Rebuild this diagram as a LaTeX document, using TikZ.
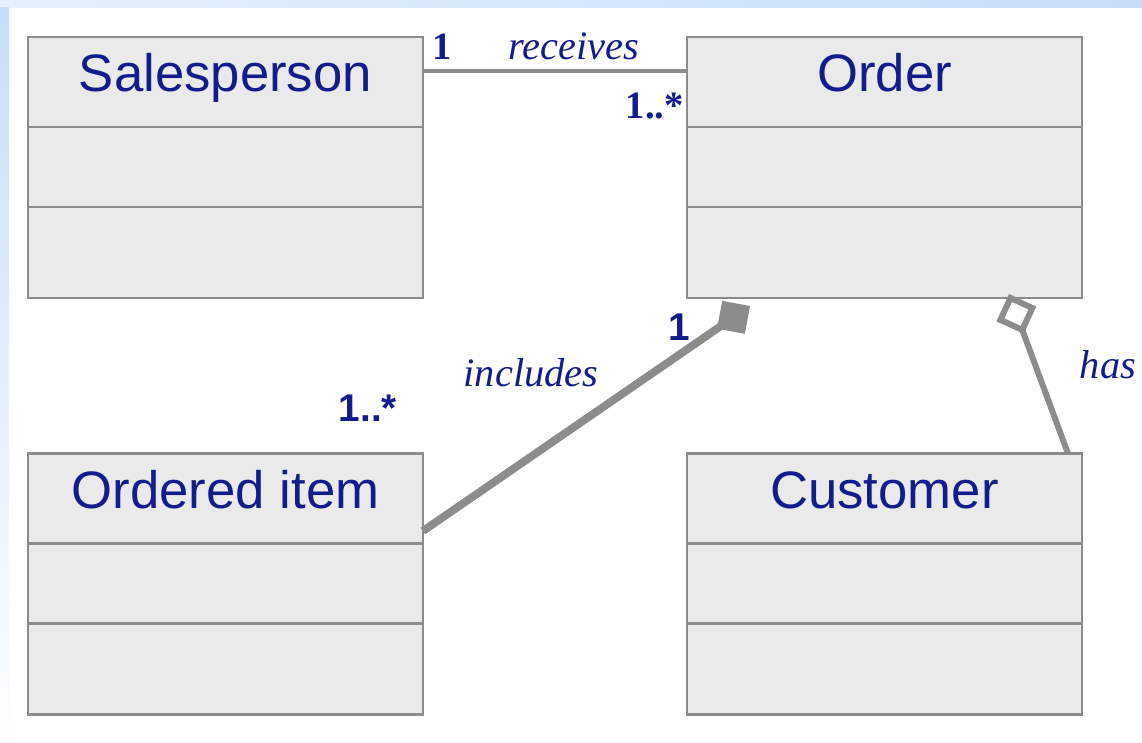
\documentclass[tikz,border=0pt]{standalone}
\usepackage{fontspec}
\setmainfont{Liberation Serif}
\setsansfont{Liberation Sans}
\usetikzlibrary{positioning, arrows.meta}
\definecolor{umlfill}{RGB}{234,234,234}
\definecolor{umlline}{RGB}{140,140,140}
\definecolor{umltext}{RGB}{18,28,140}
\definecolor{bgblue}{RGB}{198,222,248}
\definecolor{bgpale}{RGB}{228,240,252}

\tikzset{
  classhead/.style={draw=umlline, fill=umlfill, line width=1.4pt,
    minimum width=7.9cm, minimum height=1.8cm, inner sep=0pt, outer sep=0pt,
    text=umltext, font=\sffamily\fontsize{30}{36}\selectfont,
    text height=0.8cm, text depth=0.4cm},
  compart/.style={draw=umlline, fill=umlfill, line width=1.4pt,
    minimum width=7.9cm, minimum height=1.6cm, inner sep=0pt, outer sep=0pt},
  multserif/.style={text=umltext, inner sep=0pt, font=\bfseries\fontsize{22}{26}\selectfont},
  multsans/.style={text=umltext, inner sep=0pt, font=\sffamily\bfseries\fontsize{22}{26}\selectfont},
  rolename/.style={text=umltext, inner sep=0pt, font=\itshape\fontsize{23}{28}\selectfont},
  assoc/.style={draw=umlline, line width=1.9pt},
  compos/.style={draw=umlline, line width=4.5pt, -{Diamond[length=0.8cm,width=0.8cm]}},
  aggreg/.style={draw=umlline, line width=3.4pt, -{Diamond[open,length=0.85cm,width=0.85cm]}}
}

\begin{document}
\begin{tikzpicture}[x=0.02cm, y=-0.02cm]
    \useasboundingbox (0,0) rectangle (1142,743);

    % Background with pale blue frame
    \fill[white] (0,0) rectangle (1142,743);
    \fill[left color=bgpale, right color=bgblue] (0,0) rectangle (1142,8);
    \fill[top color=bgblue, bottom color=white!96!bgpale] (0,8) rectangle (9,743);

    % Salesperson class
    \node[classhead] (sales) at (225.5,82) {Salesperson};
    \node[compart, below=0pt of sales] (salesA) {};
    \node[compart, below=0pt of salesA, minimum height=1.82cm] (salesB) {};

    % Order class
    \node[classhead] (order) at (884.5,82) {Order};
    \node[compart, below=0pt of order] (orderA) {};
    \node[compart, below=0pt of orderA, minimum height=1.82cm] (orderB) {};

    % Ordered item class
    \node[classhead] (item) at (225.5,498.5) {Ordered item};
    \node[compart, below=0pt of item] (itemA) {};
    \node[compart, below=0pt of itemA, minimum height=1.82cm] (itemB) {};

    % Customer class
    \node[classhead] (cust) at (884.5,498.5) {Customer};
    \node[compart, below=0pt of cust] (custA) {};
    \node[compart, below=0pt of custA, minimum height=1.82cm] (custB) {};

    % Diamond ends under Order
    \coordinate (inclend) at (750,306);
    \coordinate (hasend) at (1009,294);

    % Associations
    \draw[assoc] ([yshift=0.22cm]sales.east) -- ([yshift=0.22cm]order.west);
    \draw[compos] ([yshift=-0.65cm]item.east) -- (inclend);
    \draw[aggreg] ([xshift=-0.28cm]cust.north east) -- (hasend);

    % Multiplicities and role names
    \node[multserif, anchor=base west] (m1) at (432,60) {1};
    \node[rolename, anchor=base] (rec) at (574,60) {receives};
    \node[multserif, anchor=base east] (m2) at (684,119) {1..*};
    \node[multsans, anchor=base] (m3) at (679,340) {1};
    \node[rolename, anchor=base] (inc) at (531,386) {includes};
    \node[multsans, anchor=base] (m4) at (368,421) {1..*};
    \node[rolename, anchor=base] (has) at (1108,378) {has};
\end{tikzpicture}
\end{document}
